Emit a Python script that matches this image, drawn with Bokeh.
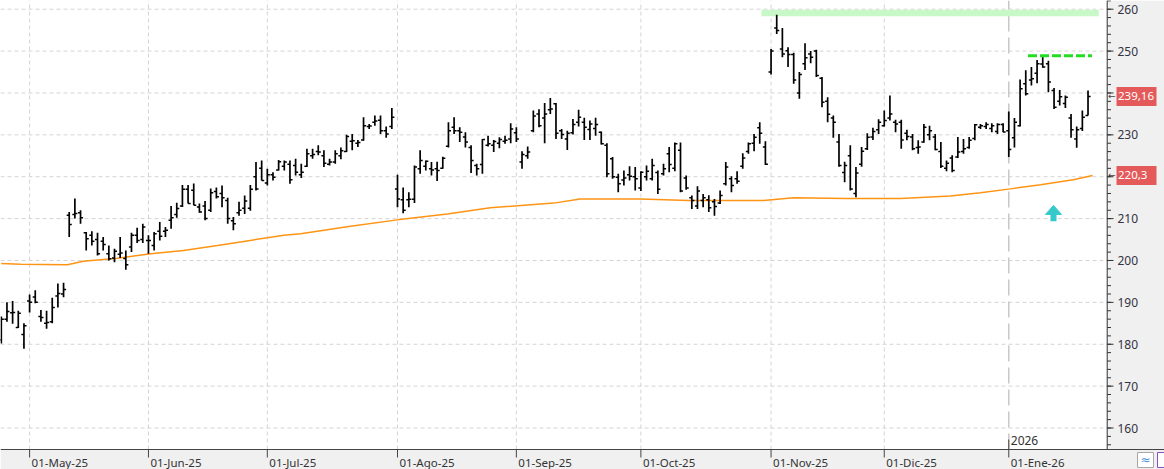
import numpy as np
from bokeh.plotting import figure
from bokeh.models import Range1d, ColumnDataSource
from bokeh.core.properties import value
from bokeh.embed import file_html
from bokeh.resources import INLINE

# ---------------- data ----------------
month_idx = [5, 26, 47, 70, 91, 113, 136, 156, 178]
month_lbl = ["01-May-25", "01-Jun-25", "01-Jul-25", "01-Ago-25", "01-Sep-25",
             "01-Oct-25", "01-Nov-25", "01-Dic-25", "01-Ene-26"]
year_idx = 178
year_lbl = "2026"
y_ticks = list(range(160, 261, 10))
y_minor = list(range(156, 263, 2))

opens = [181.0,186.0,187.5,184.0,182.3,190.3,191.3,186.6,185.0,185.4,191.5,192.0,
 210.8,211.0,211.4,206.6,206.0,205.0,204.6,201.6,200.6,201.5,
 200.5,203.2,206.0,205.0,204.8,203.6,207.0,207.0,209.6,211.0,
 213.0,217.0,216.8,212.8,213.0,212.0,216.5,216.0,214.3,209.5,
 211.4,212.5,212.5,220.0,222.0,218.5,220.5,221.6,222.5,223.0,
 222.7,220.5,222.5,225.0,226.0,225.0,223.0,223.5,225.0,226.0,
 228.5,228.0,228.8,232.0,233.0,233.5,231.0,232.0,
 217.1,214.5,214.5,214.6,221.9,222.5,221.9,221.9,222.0,227.3,
 231.8,231.0,229.5,227.0,222.7,222.9,227.5,227.5,228.0,228.5,
 229.0,230.5,223.5,225.0,231.0,235.0,234.0,236.0,237.4,231.0,
 229.0,230.5,233.0,233.0,231.3,231.5,230.6,227.5,224.3,219.9,
 219.2,220.5,220.0,
 217.3,220.0,219.5,221.0,220.7,225.5,222.0,226.3,219.7,215.0,
 213.0,214.3,214.5,214.0,213.7,218.3,219.5,219.5,222.5,226.0,
 228.0,231.7,227.1,
 245.0,255.5,250.5,250.1,249.2,240.0,247.0,249.3,250.0,243.5,
 238.0,234.0,228.3,221.0,225.0,216.0,223.0,226.7,229.5,231.2,
 232.2,234.0,233.0,233.0,230.4,229.5,227.0,228.3,230.0,229.5,
 226.0,222.0,224.5,224.7,226.0,227.0,229.1,231.8,232.0,231.5,
 230.8,232.5,
 231.0,229.3,232.2,242.2,243.1,244.7,246.9,247.0,240.6,238.0,
 237.5,234.0,229.0,231.5,234.6]

highs = [186.6,190.0,190.3,188.0,185.0,191.9,192.9,188.2,188.0,191.1,194.5,194.7,
 211.6,214.8,212.0,206.8,207.0,206.6,205.6,203.6,202.8,205.6,
 202.4,206.6,207.8,208.8,206.0,206.8,209.2,208.0,213.0,213.8,
 218.0,218.0,218.4,213.6,214.2,217.2,217.4,217.9,215.0,210.4,
 214.0,215.5,218.0,223.5,223.9,221.9,221.1,224.0,223.9,223.9,
 224.3,223.1,226.7,226.7,227.5,226.3,224.3,226.3,227.0,230.0,
 230.2,228.8,234.2,232.6,234.6,234.6,232.0,236.4,
 220.5,217.4,216.3,222.7,226.3,223.9,223.5,223.6,224.8,233.0,
 234.2,231.8,230.6,227.5,223.1,229.0,229.8,228.8,229.4,229.8,
 232.8,231.8,226.1,227.2,235.8,236.1,237.6,238.8,237.6,231.4,
 231.0,233.8,236.0,234.1,233.4,234.1,230.8,228.0,224.7,220.7,
 221.5,222.5,222.3,
 221.3,222.7,224.3,221.5,223.1,227.1,228.2,228.2,220.3,215.5,
 217.7,215.9,215.6,214.7,216.7,223.5,220.1,221.3,225.6,228.2,
 230.2,233.0,228.5,
 250.5,258.7,255.5,250.9,249.6,245.0,251.9,250.0,250.3,243.8,
 239.0,234.6,230.2,223.6,227.5,222.3,227.1,230.4,231.7,233.7,
 235.8,239.4,233.6,233.6,231.2,230.2,228.7,232.6,232.2,230.2,
 228.3,223.9,225.1,229.5,229.0,229.5,232.6,232.6,233.0,232.8,
 232.8,232.8,
 235.6,234.0,243.2,245.4,246.2,247.9,248.5,247.7,241.2,240.7,
 239.4,235.0,232.0,235.8,240.6]

lows = [180.2,185.4,184.9,183.9,178.9,187.6,189.8,185.4,183.7,185.0,188.8,191.2,
 205.6,210.0,208.8,202.4,203.6,201.2,202.4,200.0,199.6,200.6,
 197.8,202.0,204.2,204.2,201.6,202.4,204.8,205.6,207.6,210.2,
 212.8,213.6,213.2,211.4,209.6,211.6,214.8,212.7,208.8,207.2,
 210.7,211.1,211.9,216.7,219.1,217.9,219.1,221.5,221.5,218.3,
 220.3,219.7,222.3,224.3,225.1,222.3,222.7,223.1,224.2,225.9,
 226.3,227.1,228.6,231.4,232.2,230.2,229.3,231.4,
 212.7,211.3,212.7,213.7,220.7,221.5,220.3,219.0,221.9,227.0,
 230.2,228.3,227.0,220.9,220.3,220.7,227.2,225.9,226.8,227.9,
 228.0,228.3,221.9,224.3,230.6,231.8,228.0,235.0,229.0,229.0,
 226.4,230.1,232.0,228.8,228.8,229.8,227.7,219.9,219.5,216.3,
 217.9,219.1,216.7,
 216.6,219.1,219.1,215.9,220.3,221.1,221.3,216.3,216.9,212.3,
 212.3,212.7,211.6,210.7,213.5,217.9,216.3,218.3,221.9,225.5,
 226.1,227.9,222.8,
 244.4,254.1,248.5,246.2,242.2,238.6,245.5,247.1,243.8,236.6,
 233.0,229.3,222.4,218.7,216.7,215.1,222.4,226.4,228.8,230.2,
 232.0,233.4,230.6,226.7,228.7,226.3,225.5,228.1,228.7,226.3,
 222.1,221.3,221.1,224.5,225.5,226.7,228.7,231.4,231.4,230.6,
 230.2,230.6,
 224.7,227.0,232.0,239.4,241.8,242.3,246.0,240.2,236.2,237.0,
 236.4,229.3,226.9,230.9,234.6]

closes = [186.0,187.8,187.6,187.4,184.4,190.0,190.0,186.4,185.2,188.8,192.1,193.1,
 208.6,211.2,210.2,205.2,204.6,201.6,203.8,200.4,202.2,201.8,
 199.0,206.0,204.8,208.0,204.8,206.4,205.8,207.2,210.2,212.4,
 217.0,213.6,213.2,211.6,210.0,216.2,215.2,215.0,210.0,208.8,
 212.0,214.2,217.0,217.1,219.1,220.5,219.9,223.6,223.5,219.3,
 221.1,221.1,225.5,225.3,225.9,223.2,223.5,225.5,226.2,229.6,
 228.6,228.2,232.2,232.1,233.3,231.0,230.2,234.2,
 214.7,212.0,214.6,222.3,223.9,223.7,221.6,221.5,224.4,231.0,
 231.0,230.6,228.3,223.9,221.9,228.9,227.9,228.4,228.9,228.7,
 231.4,229.0,225.3,225.9,234.5,232.2,235.0,236.2,230.4,230.1,
 230.4,232.5,234.2,231.8,232.6,232.5,227.9,220.7,220.0,218.3,
 219.7,220.1,219.5,
 221.1,221.3,222.7,217.0,221.9,222.9,227.9,216.6,217.3,214.3,
 216.6,215.0,212.6,212.9,215.5,222.3,217.9,218.9,224.5,227.9,
 229.4,230.4,223.0,
 250.0,254.9,249.3,249.2,243.1,244.4,248.4,248.5,244.2,237.8,
 234.9,233.0,222.7,222.7,217.1,220.9,226.1,229.4,230.8,233.0,
 233.4,235.0,232.6,228.8,229.6,226.7,227.1,231.8,231.0,226.5,
 222.5,223.2,221.5,225.9,226.7,228.7,232.4,232.2,232.5,232.2,
 232.5,230.7,
 226.5,233.0,241.0,239.8,243.4,247.0,246.2,242.6,236.6,239.1,
 239.0,231.2,231.2,234.2,239.16]

# 200-session moving average (read at control points)
ma_idx = [0, 3.4, 11.7, 14.5, 20.5, 26.4, 32.2, 38.2, 44, 49.9, 52.9, 61.7, 70, 78.8,
          86.4, 97.6, 102.3, 113, 121.4, 134.7, 140, 149.2, 158.9, 161.5, 167.7, 173,
          178.3, 183.6, 189.4, 192.8]
ma_val = [199.3, 199.1, 199.0, 199.8, 200.55, 201.6, 202.4, 203.6, 204.8, 206.0, 206.4,
          208.2, 209.7, 211.1, 212.6, 213.7, 214.7, 214.7, 214.3, 214.3, 215.0, 214.8,
          214.8, 215.0, 215.4, 216.2, 217.1, 218.1, 219.3, 220.3]

# annotations drawn on the chart
zone_left, zone_right = [134.3], [193.9]
zone_bottom, zone_top = [258.3], [259.9]
res_x = [181.4, 192.7]
res_y = [248.87, 248.87]
arrow_x, arrow_y = 185.9, 209.4

# ---------------- layout ----------------
W, H = 1164, 469
FR_W, FR_H = 1107, 449          # price area inside the canvas
X0 = -0.141
DX = 1 / 5.66                   # data units per pixel (x)
Y0, Y1 = 154.87, 262.08
DY = (Y1 - Y0) / FR_H           # data units per pixel (y)

def px_x(px):
    return X0 + px * DX

def px_y(py):
    return Y1 - py * DY

XR0, XR1 = X0, px_x(W)
YR0, YR1 = px_y(H), Y1
XE = px_x(FR_W - 0.3)           # right edge of price area
YE = Y0                         # bottom edge of price area

FONT = "Noto Sans"
AX = "#333333"

p = figure(width=W, height=H, output_backend="svg", toolbar_location=None,
           x_range=Range1d(XR0, XR1), y_range=Range1d(YR0, YR1),
           x_axis_location=None, y_axis_location=None,
           min_border=0, background_fill_color="white",
           border_fill_color="white", outline_line_color=None)
p.grid.visible = False

# grids
p.segment(x0=[XR0] * len(y_ticks), x1=[XE] * len(y_ticks), y0=y_ticks, y1=y_ticks,
          line_color="#d4d4d4", line_width=1, line_dash="4 3")
vg = [m for m in month_idx if m != year_idx]
p.segment(x0=vg, x1=vg, y0=[YE] * len(vg), y1=[YR1] * len(vg),
          line_color="#d4d4d4", line_width=1, line_dash="4 3")
# year separator
p.segment(x0=[year_idx], x1=[year_idx], y0=[YE], y1=[YR1], line_color="#c8c8c8",
          line_width=1.5, line_dash="16 6")

# resistance zone and line
p.quad(left=zone_left, right=zone_right, bottom=zone_bottom, top=zone_top,
       fill_color="#c8f7c8", line_color=None)
p.line(x=res_x, y=res_y, line_color="#22dd22", line_width=3, line_dash="9 3")

# moving average
p.line(x=ma_idx, y=ma_val, line_color="#ff9414", line_width=1.5)

# OHLC bars
idx = np.arange(len(closes))
src = ColumnDataSource(dict(i=idx, il=idx - 0.45, ir=idx + 0.45,
                            o=opens, h=highs, l=lows, c=closes))
p.segment(x0="i", x1="i", y0="l", y1="h", source=src, line_color="black", line_width=1.7)
p.segment(x0="il", x1="i", y0="o", y1="o", source=src, line_color="black", line_width=1.5)
p.segment(x0="i", x1="ir", y0="c", y1="c", source=src, line_color="black", line_width=1.5)

# cyan arrow
ah_y0 = arrow_y + 6.7 * DY
ah_y1 = arrow_y + 15.7 * DY
p.patch(x=[arrow_x - 8 * DX, arrow_x + 8 * DX, arrow_x],
        y=[ah_y0, ah_y0, ah_y1], fill_color="#35c9c9", line_color="#35c9c9")
p.quad(left=[arrow_x - 3 * DX], right=[arrow_x + 3 * DX], bottom=[arrow_y], top=[ah_y0 + 0.1],
       fill_color="#35c9c9", line_color=None)

# "2026" marker
p.segment(x0=[year_idx], x1=[year_idx], y0=[px_y(439)], y1=[YE], line_color="#444444", line_width=1)
p.text(x=[year_idx + 2 * DX], y=[px_y(440)], text=[year_lbl], text_font=value(FONT),
       text_font_size=value("12px"), text_color=AX, text_align="left", text_baseline="middle")

# axis panels (grey)
p.quad(left=[XE], right=[XR1], bottom=[YR0], top=[YR1], fill_color="#f0f0f0", line_color=None)
p.quad(left=[XR0], right=[XR1], bottom=[YR0], top=[YE], fill_color="#f0f0f0", line_color=None)

# axis lines
p.segment(x0=[XE], x1=[XE], y0=[YE], y1=[YR1], line_color=AX, line_width=1)
p.segment(x0=[XR0], x1=[XR1], y0=[YE], y1=[YE], line_color="#444444", line_width=1)

# right axis ticks + labels
p.segment(x0=[XE] * len(y_minor), x1=[px_x(1110.5)] * len(y_minor), y0=y_minor, y1=y_minor,
          line_color=AX, line_width=1)
p.segment(x0=[XE] * len(y_ticks), x1=[px_x(1113)] * len(y_ticks), y0=y_ticks, y1=y_ticks,
          line_color=AX, line_width=1)
p.text(x=[px_x(1117)] * len(y_ticks), y=y_ticks, text=[str(t) for t in y_ticks],
       text_font=value(FONT), text_font_size=value("12px"), text_color="#333344",
       text_align="left", text_baseline="middle")

# bottom axis ticks + labels
p.segment(x0=month_idx, x1=month_idx, y0=[YE] * len(month_idx),
          y1=[px_y(457)] * len(month_idx), line_color="#444444", line_width=1)
p.text(x=[m + 2 * DX for m in month_idx], y=[px_y(461.7)] * len(month_idx), text=month_lbl,
       text_font=value(FONT), text_font_size=value("11.5px"), text_color=AX,
       text_align="left", text_baseline="middle")

# price boxes on the right axis
def fmt(v):
    s = ("%.2f" % v).rstrip("0").rstrip(".")
    return s.replace(".", ",")

box_vals = [closes[-1], ma_val[-1]]
p.quad(left=[px_x(1116)] * 2, right=[px_x(1156)] * 2,
       bottom=[v - 9.5 * DY for v in box_vals], top=[v + 9.5 * DY for v in box_vals],
       fill_color="#e45a5a", line_color=None)
p.text(x=[px_x(1117.5)] * 2, y=box_vals, text=[fmt(v) for v in box_vals],
       text_font=value(FONT), text_font_size=value("11.5px"), text_color="white",
       text_align="left", text_baseline="middle")
p.text(x=[px_x(1107.5)] * 2, y=box_vals, text=["\u2190"] * 2,
       text_font=value("DejaVu Sans"), text_font_size=value("9px"), text_color="#444444",
       text_align="left", text_baseline="middle")

# small toolbar icons at bottom right
p.quad(left=[px_x(1137), px_x(1157)], right=[px_x(1153), px_x(1172)],
       bottom=[px_y(467), px_y(467)], top=[px_y(452), px_y(452)],
       fill_color="white", line_color=["#a8a8a8", "#8a4fc0"], line_width=1)
p.text(x=[px_x(1145)], y=[px_y(459.5)], text=["\u2248"], text_font=value("DejaVu Sans"),
       text_font_size=value("12px"), text_color="#4a8fd8", text_align="center",
       text_baseline="middle")

open("out.html", "w").write(file_html(p, INLINE))
